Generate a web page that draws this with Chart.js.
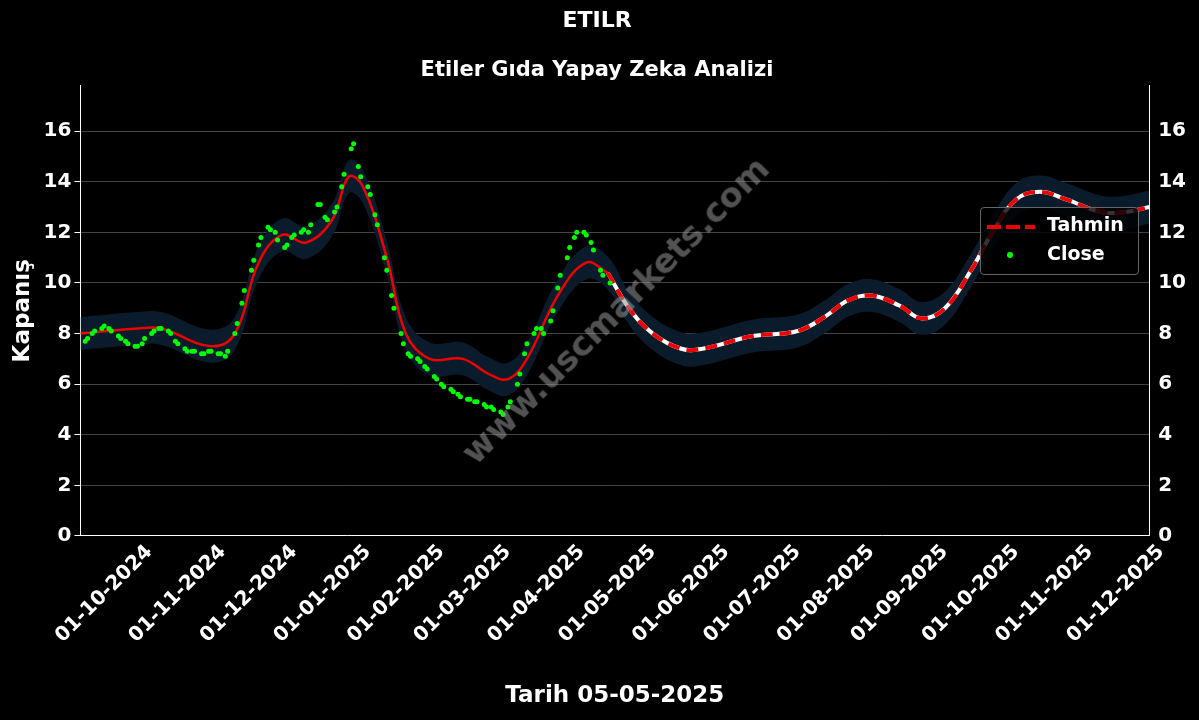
<!DOCTYPE html>
<html><head><meta charset="utf-8">
<script src="https://cdn.jsdelivr.net/npm/chart.js@4"></script>
<style>
html,body{margin:0;background:#000;}
#w{position:relative;width:1199px;height:720px;}
#wm{position:absolute;left:615px;top:310px;transform:translate(-50%,-50%) rotate(-45deg);font:bold 34px "DejaVu Sans";color:rgba(150,150,150,0.55);white-space:nowrap;}
#lg{position:absolute;left:980px;top:207px;width:157px;height:66px;border:1px solid #666;border-radius:4px;background:rgba(0,0,0,0.8);font:bold 19px "DejaVu Sans";color:#fff;}
</style></head><body>
<div id="w"><canvas id="c" width="1199" height="720"></canvas>
<div id="wm">www.uscmarkets.com</div>
<div id="lg">
<div style="position:absolute;left:6px;top:8px;width:48px;height:4px;margin-top:9px;background:repeating-linear-gradient(90deg,#e00 0 14px,transparent 14px 19px);"></div>
<div style="position:absolute;left:66px;top:5px;">Tahmin</div>
<div style="position:absolute;left:26px;top:44px;width:6px;height:6px;border-radius:50%;background:#0f0;"></div>
<div style="position:absolute;left:66px;top:34px;">Close</div>
</div></div>
<script>
const closeDates=["2024-09-23","2024-09-26","2024-09-30","2024-10-03","2024-10-07","2024-10-10","2024-10-14","2024-10-17","2024-10-21","2024-10-24","2024-10-28","2024-10-31","2024-11-04","2024-11-07","2024-11-11","2024-11-14","2024-11-18","2024-11-21","2024-11-25","2024-11-28","2024-12-02","2024-12-05","2024-12-09","2024-12-12","2024-12-16","2024-12-19","2024-12-23","2024-12-26","2024-12-30","2025-01-02","2025-01-06","2025-01-09","2025-01-13","2025-01-16","2025-01-20","2025-01-23","2025-01-27","2025-01-30","2025-02-03","2025-02-06","2025-02-10","2025-02-13","2025-02-17","2025-02-20","2025-02-24","2025-02-27","2025-03-03","2025-03-06","2025-03-10","2025-03-13","2025-03-17","2025-03-20","2025-03-24","2025-03-27","2025-03-31","2025-04-03","2025-04-07","2025-04-10","2025-04-14","2025-04-17","2025-04-21","2025-04-24","2025-04-28","2025-05-02",
"2024-09-24","2024-09-27","2024-10-01","2024-10-04","2024-10-08","2024-10-11","2024-10-15","2024-10-18","2024-10-22","2024-10-25","2024-10-29","2024-11-01","2024-11-05","2024-11-08","2024-11-12","2024-11-15","2024-11-19","2024-11-22","2024-11-26","2024-11-29","2024-12-03","2024-12-06","2024-12-10","2024-12-13","2024-12-17","2024-12-20","2024-12-24","2024-12-27","2024-12-31","2025-01-03","2025-01-07","2025-01-10","2025-01-14","2025-01-17","2025-01-21","2025-01-24","2025-01-28","2025-01-31","2025-02-04","2025-02-07","2025-02-11","2025-02-14","2025-02-18","2025-02-21","2025-02-25","2025-02-28","2025-03-04","2025-03-07","2025-03-11","2025-03-14","2025-03-18","2025-03-21","2025-03-25","2025-03-28","2025-04-01","2025-04-04","2025-04-08","2025-04-11","2025-04-15","2025-04-18","2025-04-22","2025-04-25","2025-04-29"];
const closeValues=[7.7,8.0,8.2,8.2,7.9,7.7,7.5,7.6,8.0,8.2,8.1,7.7,7.4,7.3,7.2,7.3,7.2,7.1,8.0,9.2,10.5,11.5,12.2,12.0,11.4,11.8,12.0,12.0,13.1,12.6,12.8,13.8,15.3,14.6,13.8,12.7,11.0,9.5,8.0,7.2,7.0,6.7,6.3,6.0,5.8,5.6,5.4,5.3,5.2,5.1,4.9,5.1,6.0,7.2,8.0,8.2,8.5,9.8,11.0,11.8,12.0,11.6,10.5,10.0,
7.8,8.1,8.3,8.1,7.8,7.6,7.5,7.8,8.1,8.2,8.0,7.6,7.3,7.3,7.2,7.3,7.2,7.3,8.4,9.7,10.9,11.8,12.1,11.7,11.5,11.9,12.1,12.3,13.1,12.5,13.0,14.3,15.5,14.2,13.5,12.3,10.5,9.0,7.6,7.1,6.9,6.6,6.2,5.9,5.7,5.5,5.4,5.3,5.1,5.0,4.8,5.3,6.4,7.6,8.2,8.0,8.9,10.3,11.4,12.0,11.9,11.3,10.3];
const fitDates=["2024-09-21","2024-10-15","2024-10-25","2024-11-15","2024-11-25","2024-12-05","2024-12-15","2024-12-25","2025-01-05","2025-01-12","2025-01-18","2025-01-28","2025-02-05","2025-02-15","2025-03-01","2025-03-12","2025-03-20","2025-03-28","2025-04-10","2025-04-22","2025-05-01"];
const fitValues=[8.0,8.2,8.2,7.5,8.0,10.8,11.9,11.6,12.5,14.2,13.8,11.0,8.0,7.0,7.0,6.4,6.2,7.0,9.5,10.8,10.4];
const fcDates=["2025-05-01","2025-05-10","2025-05-20","2025-06-01","2025-06-10","2025-07-01","2025-07-20","2025-08-01","2025-08-10","2025-08-20","2025-09-01","2025-09-10","2025-09-20","2025-10-01","2025-10-10","2025-10-20","2025-10-30","2025-11-10","2025-11-25","2025-12-05","2025-12-15"];
const fcValues=[10.4,9.0,8.0,7.4,7.4,7.9,8.1,8.7,9.3,9.5,9.1,8.6,9.0,10.5,12.0,13.3,13.6,13.3,12.8,12.8,13.0];
const bandHalf=0.65;
const monthTicks=["2024-10-01","2024-11-01","2024-12-01","2025-01-01","2025-02-01","2025-03-01","2025-04-01","2025-05-01","2025-06-01","2025-07-01","2025-08-01","2025-09-01","2025-10-01","2025-11-01","2025-12-01"];
const yTicks=[0,2,4,6,8,10,12,14,16];

const base=Date.UTC(2024,9,1);
const d=s=>{const [y,m,dd]=s.split('-').map(Number);return (Date.UTC(y,m-1,dd)-base)/864e5;};
const lab=s=>{const [y,m,dd]=s.split('-');return dd+'-'+m+'-'+y;};
const pts=(ds,vs,o=0)=>ds.map((x,i)=>({x:d(x),y:vs[i]+o}));
const allD=fitDates.concat(fcDates.slice(1)), allV=fitValues.concat(fcValues.slice(1));
const F='"DejaVu Sans"';
Chart.defaults.color='#fff';
Chart.defaults.font.family=F;
const xLabels={id:'xl',afterDraw(ch){const c=ch.ctx,x=ch.scales.x;c.save();c.font='bold 20px '+F;c.fillStyle='#fff';c.textAlign='center';c.textBaseline='middle';
monthTicks.forEach(s=>{const px=x.getPixelForValue(d(s));c.save();c.translate(px,x.top+58);c.rotate(-Math.PI/4);c.fillText(lab(s),0,0);c.restore();});c.restore();}};
new Chart(document.getElementById('c'),{
type:'scatter',plugins:[xLabels],
data:{datasets:[
{order:10,data:pts(allD,allV,bandHalf),showLine:true,borderWidth:0,pointRadius:0,tension:0.4,fill:'+1',backgroundColor:'#0a1c2b'},
{order:11,data:pts(allD,allV,-bandHalf),showLine:true,borderWidth:0,pointRadius:0,tension:0.4,fill:false},
{order:3,data:pts(fitDates,fitValues),showLine:true,borderColor:'#e00',borderWidth:2.5,pointRadius:0,tension:0.4},
{order:5,data:pts(fcDates,fcValues),showLine:true,borderColor:'#fff',borderWidth:4,pointRadius:0,tension:0.4},
{order:4,data:pts(fcDates,fcValues),showLine:true,borderColor:'#e00',borderWidth:4,borderDash:[12,7],pointRadius:0,tension:0.4},
{order:2,data:pts(closeDates,closeValues),pointRadius:2.5,backgroundColor:'#0f0',borderWidth:0}
]},
options:{animation:false,responsive:false,
layout:{padding:{left:5,right:10,top:0,bottom:6}},
plugins:{legend:{display:false},tooltip:{enabled:false},
title:{display:true,text:'ETILR',font:{size:22,weight:'bold'},padding:{top:8,bottom:24}},
subtitle:{display:true,text:'Etiler Gıda Yapay Zeka Analizi',color:'#fff',font:{size:21,weight:'bold'},padding:{bottom:2}}},
scales:{
x:{type:'linear',min:-10,max:440,
afterBuildTicks:a=>{a.ticks=monthTicks.map(s=>({value:d(s)}));},
ticks:{callback:v=>{const i=monthTicks.findIndex(s=>d(s)===v);return i>=0?lab(monthTicks[i]):'';},minRotation:45,maxRotation:45,font:{size:20,weight:'bold'},color:'rgba(0,0,0,0)'},
grid:{display:false,drawTicks:true,tickColor:'#fff',tickLength:6},border:{color:'#fff'},
title:{display:true,text:'Tarih 05-05-2025',font:{size:23,weight:'bold'},padding:{top:27}}},
y:{min:0,max:17.8,afterBuildTicks:a=>{a.ticks=yTicks.map(v=>({value:v}));},
ticks:{font:{size:20,weight:'bold'},color:'#fff'},
grid:{color:'#444',tickColor:'#fff',tickLength:6},border:{color:'#fff'},
title:{display:true,text:'Kapanış',font:{size:23,weight:'bold'}}},
y2:{position:'right',min:0,max:17.8,afterBuildTicks:a=>{a.ticks=yTicks.map(v=>({value:v}));},
ticks:{font:{size:20,weight:'bold'},color:'#fff'},grid:{display:false,tickColor:'#fff',tickLength:6},border:{color:'#fff'}}
}}});
</script></body></html>
